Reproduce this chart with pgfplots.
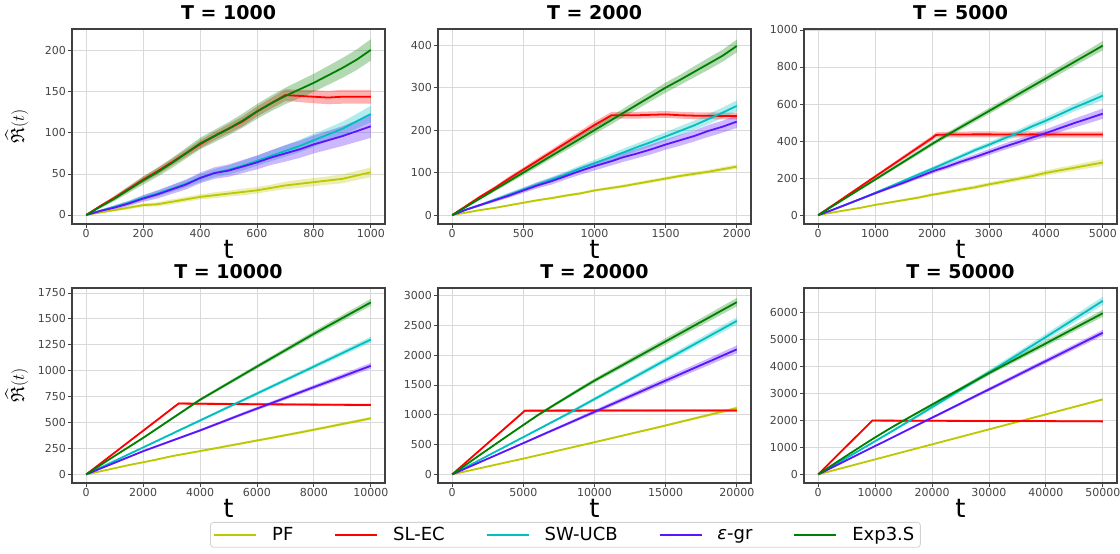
\documentclass[border=0pt]{standalone}
\usepackage{amssymb}
\usepackage{pgfplots}
\usepackage{pgfplotstable}
\pgfplotsset{compat=1.18}
\usepgfplotslibrary{groupplots,fillbetween}
\usepackage{fontspec}
\setmainfont{DejaVu Sans}

\definecolor{cpf}{RGB}{188,200,0}
\definecolor{csl}{RGB}{255,0,0}
\definecolor{csw}{RGB}{0,191,191}
\definecolor{ceg}{RGB}{90,20,255}
\definecolor{cex}{RGB}{0,128,0}
\definecolor{framec}{RGB}{64,64,64}
\definecolor{tickc}{RGB}{68,68,68}

% columns: mean and half-width of the band for each method
\pgfplotstableread{
t pf pfe sl sle sw swe eg ege ex exe
0 0 0 0 0 0 0 0 0 0 0
50 3 1 11 1.5 5 1 5 1.5 10 1.5
100 6 1.5 21 2.5 10 2 9 2.5 20 3
150 9 2 32 3 15 2.5 14 3 31 4
200 12 2 43 3.5 21 3 20 4 42 5
250 13 2.5 53 4 26 3.5 25 5 52 5.5
300 16 3 64 4 32 4 31 5.5 63 6
350 19 3 75 4.5 38 4.5 37 6 75 6.5
400 22 3 86 5 45 5 45 6.5 87 7
450 24 3.5 96 5 51 5 51 7 96 7.5
500 26 3.5 105 5.5 55 5.5 54 7.5 105 8
550 28 4 114 6 60 6 59 8 115 8.5
600 30 4 126 6 66 6 64 8.5 126 9
650 33 4 136 6.5 72 6.5 70 9 136 9.5
700 36 4.5 146 7 78 7 75 10 145 10
750 38 5 145 7.5 84 7.5 80 10.5 153 10.5
800 40 5 144 8 91 8 86 11 161 11
850 42 5 143 8 98 8 91 11.5 170 11.5
900 44 5.5 144 8.5 105 8.5 96 12 179 12
950 48 5.5 144 8.5 114 9 102 13 189 12.5
1000 52 6 144 8.5 123 10 108 14 201 13
}\tA
\pgfplotstableread{
t pf pfe sl sle sw swe eg ege ex exe
0 0 0 0 0 0 0 0 0 0 0
100 6 1 22 2 13 2 13 2 20 2
200 12 1.5 44 3 24 3 24 3 40 3
300 17 1.5 64 4 36 4 35 4 60 4
400 23 2 86 5 48 5 46 5 80 5
500 29 2 107 5 60 5 58 6 100 6
600 35 2.5 128 6 72 6 70 7 120 7
700 40 2.5 149 6 84 6 80 8 140 7
800 46 3 170 7 96 7 92 8 160 8
900 51 3 191 7 110 7 104 9 180 9
1000 58 3 212 8 122 8 115 10 200 9
1120 64 3.5 235 8 137 8 127 10 224 10
1200 68 3.5 235 8 147 9 136 11 240 10
1300 74 3.5 235 8 160 9 145 11 260 11
1400 80 4 236 8 172 10 155 12 280 11
1500 86 4 237 8 185 10 166 12 300 12
1600 92 4 235 8 198 11 176 13 318 12
1700 97 4.5 234 8 211 11 186 13 337 13
1800 102 4.5 234 8 226 12 198 14 356 14
1900 108 5 233 8 241 12 208 14 375 14
2000 114 5 233 8 257 13 220 15 398 15
}\tB
\pgfplotstableread{
t pf pfe sl sle sw swe eg ege ex exe
0 0 0 0 0 0 0 0 0 0 0
250 14 1 52 3 28 2 28 2 48 3
500 27 2 104 5 58 4 58 4 96 5
750 40 3 156 6 88 5 88 5 144 6
1000 55 4 208 8 120 6 118 7 192 8
1250 68 5 260 9 152 7 147 8 240 9
1500 81 6 312 10 185 8 175 10 288 10
1750 94 7 364 12 218 9 205 11 336 11
2000 110 8 416 13 250 10 235 12 384 12
2070 113 8 433 14 259 10 243 12 397 12
2250 123 9 435 15 283 11 260 13 430 13
2500 137 10 435 16 316 12 288 14 474 14
2750 150 10 436 16 350 13 313 15 518 15
3000 166 11 436 16 380 14 340 16 562 16
3250 180 12 435 16 412 15 367 17 606 17
3500 195 12 435 16 443 16 392 18 650 18
3750 210 13 436 16 478 17 418 19 694 19
4000 228 14 435 16 510 18 443 20 738 20
4250 242 15 435 16 545 19 470 22 783 21
4500 256 16 435 16 580 20 497 24 827 22
4750 270 17 435 16 612 22 522 26 871 23
5000 284 18 435 16 645 24 548 28 915 25
}\tC
\pgfplotstableread{
t pf pfe sl sle sw swe eg ege ex exe
0 0 0 0 0 0 0 0 0 0 0
500 30 2 105 4 65 3 56 3 90 3
1000 60 4 210 6 130 5 112 5 178 5
1500 90 5 316 7 195 7 168 7 265 7
2000 117 6 421 8 260 8 224 8 352 9
2500 145 7 526 9 325 9 274 9 444 10
3000 175 8 632 10 390 10 324 10 536 12
3250 188 8 684 11 423 11 349 11 582 12
3500 200 8 683 12 455 11 374 11 628 13
4000 225 9 681 12 520 12 424 12 720 14
4500 250 10 680 12 585 13 477 13 800 15
5000 276 10 679 12 650 14 530 14 880 17
5500 301 11 678 12 715 15 583 15 960 18
6000 327 11 677 12 780 16 635 16 1040 19
6500 352 12 676 12 845 17 686 17 1119 21
7000 378 12 675 12 910 18 738 18 1198 22
7500 404 13 674 12 975 19 790 19 1277 24
8000 431 13 673 12 1040 20 842 20 1356 26
8500 458 14 672 12 1105 22 893 22 1432 28
9000 486 14 671 12 1170 24 944 24 1508 30
9500 513 15 670 12 1235 26 996 26 1583 32
10000 541 15 670 12 1300 28 1047 28 1659 34
}\tD
\pgfplotstableread{
t pf pfe sl sle sw swe eg ege ex exe
0 0 0 0 0 0 0 0 0 0 0
1000 53 1 209 5 125 3 105 3 168 4
2000 106 3 418 10 250 6 210 7 335 7
3000 159 4 627 14 375 9 314 10 500 11
4000 212 5 836 18 500 12 419 13 665 14
5000 264 6 1045 22 625 15 524 16 828 18
5100 269 6 1067 24 637 15 534 17 844 18
6000 319 8 1068 25 750 18 629 20 990 21
7000 374 9 1068 25 875 21 734 23 1140 25
8000 429 10 1069 25 1000 24 838 26 1285 28
9000 484 11 1069 25 1131 27 943 29 1430 32
10000 539 13 1070 25 1262 30 1048 33 1572 35
11000 595 14 1070 25 1393 33 1153 36 1704 39
12000 651 15 1071 25 1524 36 1258 39 1835 42
13000 707 16 1071 25 1655 39 1362 42 1967 46
14000 763 18 1070 25 1786 42 1467 46 2098 49
15000 820 19 1070 25 1917 45 1572 49 2230 53
16000 878 20 1070 25 2048 48 1677 52 2361 56
17000 936 21 1071 25 2179 51 1782 55 2493 60
18000 994 23 1070 25 2310 54 1886 59 2624 63
19000 1053 24 1070 25 2441 57 1991 62 2756 67
20000 1112 25 1070 25 2573 60 2096 65 2887 70
}\tE
\pgfplotstableread{
t pf pfe sl sle sw swe eg ege ex exe
0 0 0 0 0 0 0 0 0 0 0
2500 139 2 525 10 300 8 262 6 350 7
5000 278 4 1050 20 610 15 525 11 695 13
7500 417 6 1575 30 920 23 787 17 1035 20
9500 528 8 1995 38 1170 29 997 21 1305 25
10000 556 8 1994 40 1230 30 1050 22 1370 26
12500 695 10 1992 40 1540 38 1312 28 1690 33
15000 834 12 1990 40 1855 45 1575 33 1995 39
17500 973 14 1988 40 2170 53 1837 39 2290 46
20000 1112 16 1986 40 2490 60 2100 44 2585 52
22500 1251 18 1984 40 2810 68 2362 50 2880 59
25000 1390 20 1982 40 3130 75 2625 55 3170 65
27500 1529 22 1980 40 3455 83 2887 61 3460 72
30000 1668 24 1979 40 3780 90 3150 66 3753 78
32500 1807 26 1978 40 4105 98 3412 72 4030 85
35000 1946 28 1977 40 4430 105 3675 77 4305 91
37500 2085 30 1976 40 4760 113 3937 83 4580 98
40000 2224 32 1975 40 5090 120 4200 88 4855 104
42500 2363 34 1972 40 5425 128 4462 94 5135 111
45000 2502 36 1970 40 5760 135 4725 99 5415 117
47500 2641 38 1968 40 6095 143 4987 105 5695 124
50000 2780 40 1965 40 6434 150 5250 110 5972 130
}\tF

% mean line with a shaded band of +- half-width
\newcommand{\band}[3]{%
  \addplot[draw=none, forget plot, name path=#2hi] table[x=t, y expr=\thisrow{#2}+\thisrow{#2e}] {#1};
  \addplot[draw=none, forget plot, name path=#2lo] table[x=t, y expr=\thisrow{#2}-\thisrow{#2e}] {#1};
  \addplot[fill=#3, fill opacity=0.3, draw=none, forget plot] fill between[of=#2hi and #2lo];
  \addplot[#3, line width=1.8pt] table[x=t, y=#2] {#1};
}
\newcommand{\allseries}[1]{%
  \band{#1}{pf}{cpf}\band{#1}{sl}{csl}\band{#1}{sw}{csw}\band{#1}{eg}{ceg}\band{#1}{ex}{cex}}

\begin{document}
\begin{tikzpicture}
\begin{groupplot}[
  group style={group size=3 by 2, horizontal sep=53pt, vertical sep=64pt},
  scale only axis, width=313pt, height=195pt,
  axis line style={framec, line width=1.2pt},
  grid=major, major grid style={gray!30, line width=0.8pt},
  tick align=outside, tick pos=left, major tick length=4pt,
  every tick/.style={tickc, line width=0.8pt},
  ticklabel style={font=\fontsize{11}{12}\selectfont, text=tickc},
  xticklabel style={inner sep=1.5pt},
  yticklabel style={inner sep=2pt},
  /pgf/number format/assume math mode=true,
  /pgf/number format/1000 sep={},
  scaled ticks=false,
  title style={font=\bfseries\fontsize{19}{19}\selectfont, inner sep=0pt, yshift=3pt},
  xlabel={t},
  xlabel style={font=\fontsize{26}{26}\selectfont, at={(axis description cs:0.5,0)}, anchor=base, inner sep=0pt, yshift=-35pt},
  ylabel style={font=\fontsize{19}{19}\selectfont, at={(axis description cs:-0.176,0.5)}, anchor=center, inner sep=0pt},
  legend image code/.code={\draw[#1] (0pt,0pt) -- (42pt,0pt);},
]
\nextgroupplot[title={T = 1000}, xmin=-50, xmax=1050, ymin=-11, ymax=226.5,
  xtick={0,200,...,1000}, ytick={0,50,...,200}, ylabel={$\widehat{\mathfrak{R}}(t)$}]
\coordinate (tl) at (rel axis cs:0,1);
\allseries{\tA}
\nextgroupplot[title={T = 2000}, xmin=-100, xmax=2100, ymin=-21, ymax=438,
  xtick={0,500,...,2000}, ytick={0,100,...,400}]
\allseries{\tB}
\nextgroupplot[title={T = 5000}, xmin=-250, xmax=5250, ymin=-48, ymax=1005,
  xtick={0,1000,...,5000}, ytick={0,200,...,1000}]
\allseries{\tC}
\nextgroupplot[title={T = 10000}, xmin=-500, xmax=10500, ymin=-83, ymax=1798,
  xtick={0,2000,...,10000}, ytick={0,250,...,1750}, ylabel={$\widehat{\mathfrak{R}}(t)$}]
\allseries{\tD}
\nextgroupplot[title={T = 20000}, xmin=-1000, xmax=21000, ymin=-145, ymax=3125,
  xtick={0,5000,...,20000}, ytick={0,500,...,3000},
  legend columns=5,
  legend style={at={(axis description cs:0.407,-0.2)}, anchor=north,
    draw=gray!35, rounded corners=3pt, line width=0.8pt,
    font=\fontsize{18}{18}\selectfont,
    nodes={inner sep=3pt},
    /tikz/every odd column/.append style={column sep=12pt},
    /tikz/every even column/.append style={column sep=38pt}}]
\allseries{\tE}
\legend{PF, SL-EC, SW-UCB, {\itshape ε}-gr, Exp3.S}
\nextgroupplot[title={T = 50000}, xmin=-2500, xmax=52500, ymin=-320, ymax=6909,
  xtick={0,10000,...,50000}, ytick={0,1000,...,6000}]
\allseries{\tF}
\end{groupplot}
\pgfresetboundingbox
\useasboundingbox ([shift={(-72pt,29pt)}]tl) rectangle ++(1120pt,-554pt);
\end{tikzpicture}
\end{document}
